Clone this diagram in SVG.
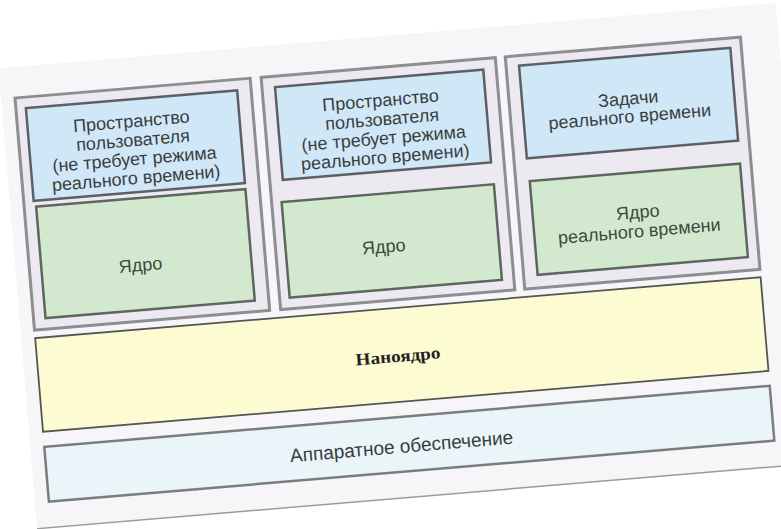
<svg xmlns="http://www.w3.org/2000/svg" width="781" height="529" viewBox="0 0 781 529">
<style>
.col{fill:#eceaf0;stroke:#8e8e92;stroke-width:3}
.blue{fill:#cfe7f6;stroke:#5c6066;stroke-width:2.5}
.green{fill:#d2e8cf;stroke:#5e6660;stroke-width:2.5}
.nano{fill:#fcfbd2;stroke:#555;stroke-width:1.8}
.hw{fill:#eaf5f9;stroke:#7a7d80;stroke-width:2.5}
.t{font-family:"Liberation Sans",Arial,sans-serif;font-size:18px;fill:#3a3d40;text-anchor:middle}
.tg{fill:#3c4a3c}
.tb{font-family:"Liberation Serif","Times New Roman",serif;font-size:17px;font-weight:bold;fill:#222;text-anchor:middle}
</style>
<rect width="781" height="529" fill="#ffffff"/>
<g transform="translate(15,98) rotate(-4.8)">
  <rect id="page" x="-14" y="-31" width="780" height="462" fill="#f6f6f8"/>
  <line x1="-14" y1="431" x2="766" y2="431" stroke="#9a9a9a" stroke-width="1.5"/>
  <g id="col1">
    <rect class="col" x="0" y="0" width="236" height="233"/>
    <g id="user1">
      <rect class="blue" x="10" y="11" width="212" height="93"/>
      <text class="t" x="114" y="39">Пространство</text>
      <text class="t" x="114" y="58">пользователя</text>
      <text class="t" x="114" y="77">(не требует режима</text>
      <text class="t" x="114" y="96">реального времени)</text>
    </g>
    <g id="kernel1">
      <rect class="green" x="12" y="110" width="210" height="112"/>
      <text class="t tg" x="111" y="183">Ядро</text>
    </g>
  </g>
  <g id="col2">
    <rect class="col" x="247" y="0" width="235" height="233"/>
    <g id="user2">
      <rect class="blue" x="260" y="11" width="209" height="93"/>
      <text class="t" x="364" y="39">Пространство</text>
      <text class="t" x="364" y="58">пользователя</text>
      <text class="t" x="364" y="77">(не требует режима</text>
      <text class="t" x="364" y="96">реального времени)</text>
    </g>
    <g id="kernel2">
      <rect class="green" x="257" y="126" width="213" height="96"/>
      <text class="t tg" x="355" y="185">Ядро</text>
    </g>
  </g>
  <g id="col3">
    <rect class="col" x="492" y="0" width="236" height="233"/>
    <g id="rttasks">
      <rect class="blue" x="505" y="10" width="212" height="93"/>
      <text class="t" x="611" y="58">Задачи</text>
      <text class="t" x="611" y="76">реального времени</text>
    </g>
    <g id="rtkernel">
      <rect class="green" x="506" y="126" width="211" height="94"/>
      <text class="t tg" x="611" y="172">Ядро</text>
      <text class="t tg" x="611" y="191">реального времени</text>
    </g>
  </g>
  <g id="nanokernel">
    <rect class="nano" x="0" y="241" width="728" height="94"/>
    <text class="tb" x="360" y="295" textLength="85" lengthAdjust="spacingAndGlyphs">Наноядро</text>
  </g>
  <g id="hardware">
    <rect class="hw" x="0" y="350" width="728" height="55"/>
    <text class="t" x="356" y="386" style="font-size:19px">Аппаратное обеспечение</text>
  </g>
  <g id="connectors"/>
</g>
</svg>
